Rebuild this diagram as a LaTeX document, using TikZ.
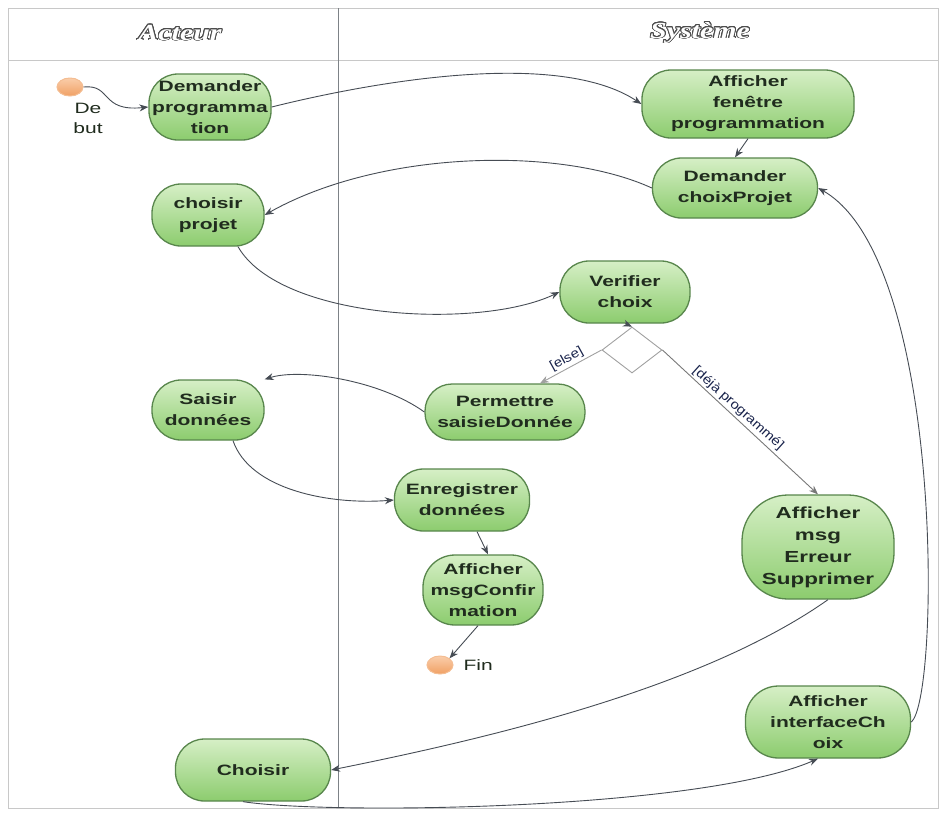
\documentclass[tikz,border=0pt]{standalone}
\usepackage{fontspec}
\usepackage{contour}
\usetikzlibrary{arrows.meta,shapes.geometric}
\newfontfamily\nodefont{Liberation Sans}[FakeStretch=1.4]
\newfontfamily\guardfont{Liberation Sans}[FakeStretch=1.15]
\newfontfamily\headfont{Liberation Serif}[FakeStretch=1.3]
\definecolor{actfill}{RGB}{214,239,198}
\definecolor{actfillb}{RGB}{140,204,110}
\definecolor{actline}{RGB}{88,134,76}
\definecolor{acttext}{RGB}{32,44,30}
\definecolor{wire}{RGB}{70,76,84}
\definecolor{lane}{RGB}{200,200,200}
\definecolor{dotfill}{RGB}{240,160,100}
\definecolor{dotfilla}{RGB}{250,205,170}
\contourlength{0.9pt}
\contournumber{20}
\tikzset{
  activity/.style={rectangle, rounded corners=29pt, top color=actfill, bottom color=actfillb,
    draw=actline, line width=1.3pt, text=acttext, align=center, inner sep=1pt,
    font=\nodefont\bfseries\fontsize{15}{21}\selectfont},
  dot/.style={ellipse, minimum width=26pt, minimum height=18pt, inner sep=0pt,
    top color=dotfilla, bottom color=dotfill, draw=dotfill!70!white, line width=1pt},
  choice/.style={diamond, draw=lane!80!black, line width=0.9pt, minimum width=60pt,
    minimum height=46pt, inner sep=0pt, aspect=1.3},
  flow/.style={draw=wire, line width=0.9pt, -{Stealth[length=9pt,width=7pt]}},
  guard/.style={font=\guardfont\fontsize{13}{15}\selectfont, text=acttext!80!blue, inner sep=1pt},
  plain/.style={font=\nodefont\fontsize{15}{20}\selectfont, text=acttext, align=center},
  lanehead/.style={font=\headfont\bfseries\itshape\fontsize{23}{25}\selectfont}
}
\begin{document}
\begin{tikzpicture}[x=1pt,y=-1pt]
\useasboundingbox (0,0) rectangle (945,812);
% swimlane frame
\draw[lane, line width=1pt] (8,8) rectangle (938,808);
\draw[lane, line width=1pt] (8,60) -- (938,60);
\draw[wire!70!white, line width=1pt] (338,8) -- (338,808);
\node[lanehead] (hacteur) at (180,33) {\contour{black!70}{\textcolor{white}{Acteur}}};
\node[lanehead] (hsysteme) at (700,33) {\contour{black!70}{\textcolor{white}{Système}}};

% start and end
\node[dot] (start) at (70,87) {};
\node[plain] (debut) at (88,118) {De\\but};
\node[dot] (fin) at (440,665) {};
\node[plain, anchor=west] (finlabel) at (460,665) {Fin};

% activities
\node[activity, minimum width=122pt, minimum height=66pt] (dp) at (210,107) {Demander\\programma\\tion};
\node[activity, minimum width=212pt, minimum height=68pt] (afp) at (748,104) {Afficher\\fenêtre\\programmation};
\node[activity, minimum width=165pt, minimum height=60pt] (dcp) at (735,188) {Demander\\choixProjet};
\node[activity, minimum width=112pt, minimum height=62pt] (cp) at (208,215) {choisir\\projet};
\node[activity, minimum width=130pt, minimum height=62pt] (vc) at (625,292) {Verifier\\choix};
\node[choice] (dia) at (632,350) {};
\node[activity, minimum width=160pt, minimum height=56pt, rounded corners=27pt] (psd) at (505,412) {Permettre\\saisieDonnée};
\node[activity, minimum width=112pt, minimum height=60pt] (sd) at (208,410) {Saisir\\données};
\node[activity, minimum width=135pt, minimum height=62pt] (ed) at (462,500) {Enregistrer\\données};
\node[activity, minimum width=120pt, minimum height=70pt, rounded corners=32pt] (amc) at (483,590) {Afficher\\msgConfir\\mation};
\node[activity, minimum width=152pt, minimum height=104pt, rounded corners=46pt,
  font=\nodefont\bfseries\fontsize{16}{22}\selectfont] (ame) at (818,547) {Afficher\\msg\\Erreur\\Supprimer};
\node[activity, minimum width=155pt, minimum height=62pt] (ch) at (253,770) {Choisir};
\node[activity, minimum width=165pt, minimum height=72pt, rounded corners=33pt] (aic) at (828,722) {Afficher\\interfaceCh\\oix};

% control flow
\draw[flow] (start.east) .. controls (112,84) and (100,112) .. (dp.west);
\draw[flow] (dp.east) .. controls (380,80) and (560,50) .. (afp.west);
\draw[flow] (afp.south) -- (dcp.north);
\draw[flow] (dcp.west) .. controls (560,146) and (380,150) .. (cp.east);
\draw[flow] ([xshift=30pt]cp.south) .. controls (280,320) and (480,330) .. (vc.west);
\draw[flow] (vc.south) -- (dia.north);
\draw[flow, draw=lane!80!black] (dia.west) -- ([xshift=35pt]psd.north)
  node[guard, pos=0.5, rotate=29, above=1pt] (gelse) {[else]};
\draw[flow, draw=lane!60!black] (dia.east) -- (ame.north)
  node[guard, pos=0.45, rotate=-42, above=1pt] (gdeja) {[déjà programmé]};
\draw[flow] (psd.west) .. controls (380,380) and (300,368) .. (sd.north east);
\draw[flow] ([xshift=25pt]sd.south) .. controls (250,490) and (330,505) .. (ed.west);
\draw[flow] ([xshift=15pt]ed.south) -- ([xshift=5pt]amc.north);
\draw[flow] ([xshift=-5pt]amc.south) -- (fin.north east);
\draw[flow] ([xshift=10pt]ame.south) .. controls (700,690) and (480,740) .. (ch.east);
\draw[flow] ([xshift=-10pt]ch.south) .. controls (330,815) and (700,810) .. ([xshift=-10pt]aic.south);
\draw[flow] (aic.east) .. controls (940,700) and (945,260) .. (dcp.east);
\end{tikzpicture}
\end{document}
